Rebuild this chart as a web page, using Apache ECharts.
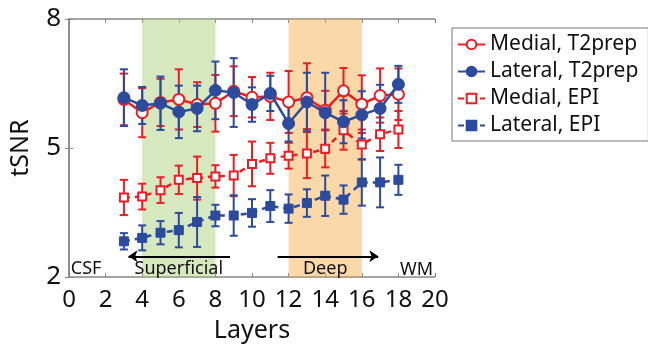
<!DOCTYPE html>
<html>
<head>
<meta charset="utf-8">
<script src="https://cdn.jsdelivr.net/npm/echarts@6/dist/echarts.min.js"></script>
<style>
html,body{margin:0;padding:0;background:#fff;}
#main{width:648px;height:348px;}
</style>
</head>
<body>
<div id="main"></div>
<script>
// layers on the x axis
var layers = [3, 4, 5, 6, 7, 8, 9, 10, 11, 12, 13, 14, 15, 16, 17, 18];

// tSNR means
var medialT2 = [6.13, 5.82, 6.06, 6.13, 6.01, 6.04, 6.32, 6.18, 6.20, 6.07, 6.17, 5.88, 6.33, 6.02, 6.22, 6.25];
var lateralT2 = [6.17, 5.99, 6.04, 5.84, 5.92, 6.34, 6.29, 6.01, 6.27, 5.57, 6.07, 5.82, 5.61, 5.77, 5.92, 6.48];
var medialEPI = [3.85, 3.87, 4.02, 4.26, 4.30, 4.34, 4.36, 4.63, 4.76, 4.82, 4.87, 4.98, 5.41, 5.08, 5.32, 5.43];
var lateralEPI = [2.83, 2.91, 3.03, 3.09, 3.28, 3.43, 3.43, 3.49, 3.65, 3.59, 3.72, 3.89, 3.80, 4.20, 4.20, 4.26];

// error bar half widths
var medialT2Err = [0.60, 0.57, 0.55, 0.70, 0.52, 0.66, 0.58, 0.47, 0.55, 0.72, 0.80, 0.45, 0.53, 0.67, 0.63, 0.60];
var lateralT2Err = [0.66, 0.43, 0.62, 0.61, 0.53, 0.67, 0.80, 0.40, 0.41, 0.42, 0.68, 0.93, 0.50, 0.55, 0.55, 0.43];
var medialEPIErr = [0.41, 0.30, 0.30, 0.33, 0.50, 0.26, 0.48, 0.52, 0.36, 0.30, 0.57, 0.43, 0.45, 0.35, 0.39, 0.43];
var lateralEPIErr = [0.19, 0.29, 0.27, 0.40, 0.58, 0.25, 0.47, 0.32, 0.37, 0.33, 0.32, 0.47, 0.33, 0.54, 0.58, 0.35];

var names = ['Medial, T2prep', 'Lateral, T2prep', 'Medial, EPI', 'Lateral, EPI'];
var xTicks = [0, 2, 4, 6, 8, 10, 12, 14, 16, 18, 20];
var yTicks = [2, 5, 8];

// shaded bands
var superficialBand = [4, 8];
var deepBand = [12, 16];

var RED = '#ee1c25';
var BLUE = '#2c4b9f';
var FONT = '"Noto Sans", "Open Sans", sans-serif';

function pairs(vals) {
  var out = [];
  for (var i = 0; i < layers.length; i++) out.push([layers[i], vals[i]]);
  return out;
}
function errs(vals, e) {
  var out = [];
  for (var i = 0; i < layers.length; i++) out.push([layers[i], vals[i] - e[i], vals[i] + e[i]]);
  return out;
}

function errBar(color) {
  return function (params, api) {
    var lo = api.coord([api.value(0), api.value(1)]);
    var hi = api.coord([api.value(0), api.value(2)]);
    var w = 4;
    var st = { stroke: color, lineWidth: 2 };
    return {
      type: 'group',
      children: [
        { type: 'line', shape: { x1: lo[0], y1: lo[1], x2: hi[0], y2: hi[1] }, style: st },
        { type: 'line', shape: { x1: lo[0] - w, y1: lo[1], x2: lo[0] + w, y2: lo[1] }, style: st },
        { type: 'line', shape: { x1: hi[0] - w, y1: hi[1], x2: hi[0] + w, y2: hi[1] }, style: st }
      ]
    };
  };
}

function errSeries(vals, e, color) {
  return {
    type: 'custom',
    renderItem: errBar(color),
    data: errs(vals, e),
    encode: { x: 0, y: [1, 2] },
    z: 2,
    silent: true
  };
}

var chart = echarts.init(document.getElementById('main'));

var option = {
  animation: false,
  textStyle: { fontFamily: FONT },
  grid: { left: 66, right: 213, top: 19, bottom: 60 },
  legend: {
    orient: 'vertical',
    left: 452,
    top: 28,
    width: 191,
    data: names,
    itemWidth: 27,
    itemHeight: 12,
    itemGap: 6,
    borderColor: '#777',
    borderWidth: 1,
    padding: [6, 10, 5, 5],
    textStyle: { fontSize: 21, color: '#111', fontFamily: FONT }
  },
  xAxis: [{
    type: 'value', min: 0, max: 20, interval: 2, position: 'bottom',
    name: 'Layers', nameLocation: 'middle', nameGap: 41,
    nameTextStyle: { fontSize: 25, color: '#111' },
    axisLine: { lineStyle: { color: '#888', width: 1.5 } },
    axisTick: { inside: true, length: 4, lineStyle: { color: '#888' } },
    axisLabel: { fontSize: 24, color: '#111', margin: 11,
      formatter: function (v) { return xTicks.indexOf(v) >= 0 ? v : ''; } },
    splitLine: { show: false }
  }, {
    type: 'value', min: 0, max: 20, interval: 2, position: 'top',
    axisLine: { lineStyle: { color: '#888', width: 1.5 } },
    axisTick: { inside: true, length: 4, lineStyle: { color: '#888' } },
    axisLabel: { show: false },
    splitLine: { show: false }
  }],
  yAxis: [{
    type: 'value', min: 2, max: 8, interval: 3, position: 'left',
    name: 'tSNR', nameLocation: 'middle', nameGap: 36, nameRotate: 90,
    nameTextStyle: { fontSize: 25, color: '#111' },
    axisLine: { show: true, lineStyle: { color: '#888', width: 1.5 } },
    axisTick: { show: true, inside: true, length: 4, lineStyle: { color: '#888' } },
    axisLabel: { fontSize: 26, color: '#111', margin: 8,
      formatter: function (v) { return yTicks.indexOf(v) >= 0 ? v : ''; } },
    splitLine: { show: false }
  }, {
    type: 'value', min: 2, max: 8, interval: 3, position: 'right',
    axisLine: { show: true, lineStyle: { color: '#888', width: 1.5 } },
    axisTick: { show: true, inside: true, length: 4, lineStyle: { color: '#888' } },
    axisLabel: { show: false },
    splitLine: { show: false }
  }],
  series: [
    errSeries(medialEPI, medialEPIErr, RED),
    errSeries(lateralEPI, lateralEPIErr, BLUE),
    errSeries(medialT2, medialT2Err, RED),
    errSeries(lateralT2, lateralT2Err, BLUE),
    {
      name: names[2], type: 'line', data: pairs(medialEPI), z: 3,
      symbol: 'rect', symbolSize: 8,
      lineStyle: { color: RED, width: 2.5, type: [6, 5] },
      itemStyle: { color: '#fff', borderColor: RED, borderWidth: 2 }
    },
    {
      name: names[3], type: 'line', data: pairs(lateralEPI), z: 3,
      symbol: 'rect', symbolSize: 9,
      lineStyle: { color: BLUE, width: 2.5, type: [6, 5] },
      itemStyle: { color: BLUE, borderColor: BLUE, borderWidth: 1 }
    },
    {
      name: names[0], type: 'line', data: pairs(medialT2), z: 3,
      symbol: 'circle', symbolSize: 11,
      lineStyle: { color: RED, width: 2.5 },
      itemStyle: { color: '#fff', borderColor: RED, borderWidth: 2 }
    },
    {
      name: names[1], type: 'line', data: pairs(lateralT2), z: 4,
      symbol: 'circle', symbolSize: 12,
      lineStyle: { color: BLUE, width: 2.5 },
      itemStyle: { color: BLUE, borderColor: BLUE, borderWidth: 1 }
    },
    {
      // translucent bands laid over the lines, as in the figure
      type: 'line', data: [], z: 6, silent: true,
      markArea: {
        silent: true,
        data: [
          [{ xAxis: superficialBand[0], itemStyle: { color: 'rgba(164,204,111,0.45)' } }, { xAxis: superficialBand[1] }],
          [{ xAxis: deepBand[0], itemStyle: { color: 'rgba(247,169,62,0.45)' } }, { xAxis: deepBand[1] }]
        ]
      }
    },
    {
      // direction arrows
      type: 'line', data: [], z: 8, silent: true,
      markLine: {
        silent: true,
        symbol: ['none', 'arrow'],
        symbolSize: [9, 9],
        label: { show: false },
        lineStyle: { color: '#000', width: 2, type: 'solid' },
        data: [
          [{ coord: [8.8, 2.48] }, { coord: [3.25, 2.48] }],
          [{ coord: [11.4, 2.48] }, { coord: [16.9, 2.48] }]
        ]
      }
    }
  ]
};

chart.setOption(option);

// region labels placed via the axes
function txt(x, y, s, align) {
  var p = chart.convertToPixel({ xAxisIndex: 0, yAxisIndex: 0 }, [x, y]);
  return {
    type: 'text', x: p[0], y: p[1], z: 100,
    style: { text: s, fontSize: 18, fontFamily: FONT, fill: '#111', align: align, verticalAlign: 'middle' }
  };
}
chart.setOption({
  graphic: [
    txt(0.1, 2.18, 'CSF', 'left'),
    txt(6.0, 2.18, 'Superficial', 'center'),
    txt(14.0, 2.18, 'Deep', 'center'),
    txt(19.9, 2.17, 'WM', 'right')
  ]
});
</script>
</body>
</html>
